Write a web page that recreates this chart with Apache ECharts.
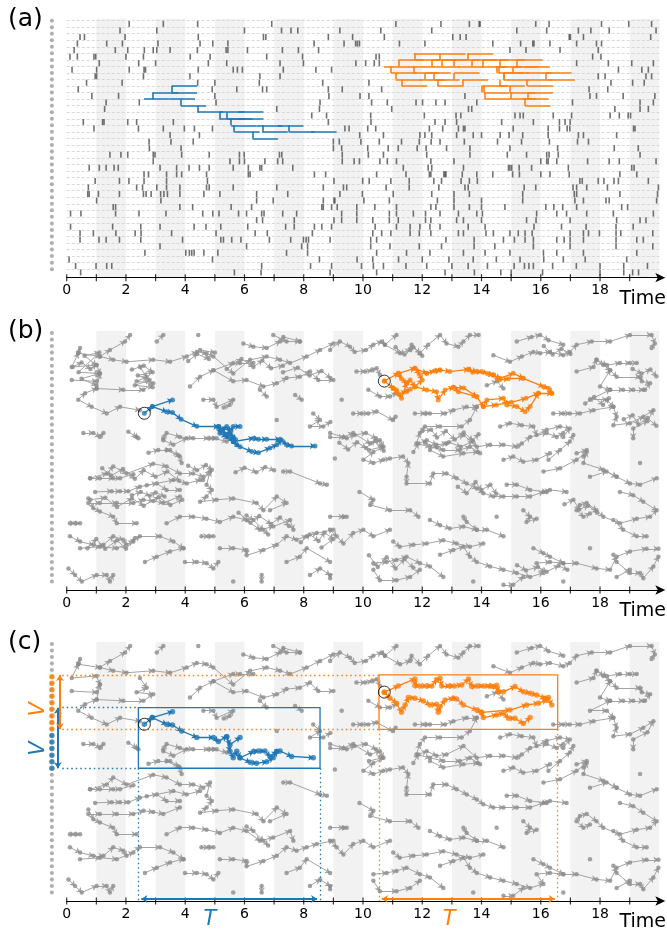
<!DOCTYPE html>
<html><head><meta charset="utf-8">
<script src="https://cdn.jsdelivr.net/npm/echarts@6/dist/echarts.min.js"></script>
<style>html,body{margin:0;padding:0;background:#fff}#c{width:667px;height:936px}</style>
</head><body><div id="c"></div>
<script>
// ---------- data ----------
const NODE_COUNT = 39;
const tickValues = [0,1,2,3,4,5,6,7,8,9,10,11,12,13,14,15,16,17,18,19];
const tickLabels = [0,2,4,6,8,10,12,14,16,18];
const shadedStarts = [1,3,5,7,9,11,13,15,17,19];

// event times per node (row 0 at top)
const events = [
 [2.11,3.26,4.42,6.92,11.11,12.63,13.59,13.92,13.95,15.83,16.28,18.05,18.97,19.74],
 [1.80,3.04,6.0,7.25,7.57,7.80,9.22,10.6,12.32,15.19,16.2,17.27,17.69,18.31,19.89],
 [0.45,0.60,1.97,4.44,6.64,6.72,8.83,9.65,10.72,13.03,13.28,13.48,16.96,17.0,17.44,19.71],
 [0.36,1.35,1.88,3.08,4.5,4.93,5.44,8.35,9.36,9.75,9.81,9.88,11.23,12.09,14.38,15.32,15.73,15.77,16.31,17.21,17.88,18.05],
 [0.25,1.64,2.06,2.62,2.92,3.04,3.49,4.41,5.38,5.44,6.1,7.28,7.82,8.5,14.96,15.5,16.65,17.94],
 [0.11,0.36,0.92,0.98,2.0,2.59,4.17,4.84,6.75,7.96,10.44,10.55,17.75,18.03],
 [1.10,2.43,3.0,4.78,5.40,7.2,7.99,9.76,10.09,10.38,10.55,17.21,18.28,19.07,19.8],
 [0.18,1.01,2.11,2.61,2.66,4.44,5.62,5.76,5.93,7.31,8.41,8.94,18.62,19.41,19.63],
 [0.96,1.01,2.59,4.16,6.52,7.2,17.94,18.17,19.55,19.74],
 [0.67,1.87,4.42,5.0,6.5,8.64,10.2,18.37,19.1,19.49],
 [0.39,4.91,5.74,6.61,6.75,8.83,9.3,10.63,17.63,18.26],
 [0.85,1.75,5.0,8.85,9.9,10.2,13.44,17.66,17.88,18.78,19.85],
 [1.33,2.45,5.04,8.55,10.29,10.82,11.79,12.01,12.46,12.77,13.84,17.07,19.35,19.8],
 [1.28,7.09,8.53,10.97,13.56,13.67,18.5,19.35,19.63],
 [8.27,8.77,10.26,12.07,13.14,13.3,15.13,15.3,15.41,16.42,17.04,18.34,18.65,18.95,19.03],
 [0.56,1.21,1.26,2.06,2.36,3.60,8.83,10.27,12.43,12.77,13.16,14.68,15.75,16.63,16.82,16.99],
 [0.92,2.42,3.26,3.97,4.31,4.92,9.39,9.53,10.16,10.43,12.24,12.69,13.22,13.39,13.44,15.07,16.25,16.63,16.89,16.98,19.13,19.18],
 [3.49,4.48,9.89,10.69,11.92,12.09,12.32,13.16,13.72,14.0,14.63,14.93,15.39,16.25,17.27,17.44,18.56],
 [2.78,3.52,4.27,9.0,9.2,9.93,10.55,11.3,11.9,12.3,12.6,13.42,14.54,15.35,16.29,17.24,17.61],
 [2.79,3.86,9.0,9.28,10.16,10.85,11.19,11.83,12.13,12.82,13.61,14.96,16.57,18.48,19.29],
 [1.46,1.83,2.06,2.92,2.98,3.88,4.81,5.83,5.99,7.18,7.26,9.3,10.18,10.69,12.15,13.61,14.87,15.52,16.2,16.28,16.59,19.35],
 [2.92,5.51,5.83,6.0,6.69,7.12,7.29,9.3,9.7,9.88,10.57,10.82,11.13,12.29,13.07,16.0,16.2,16.25,16.54,17.58,18.31,18.65,19.89],
 [0.76,1.1,1.33,1.6,1.74,3.15,3.71,4.13,4.48,4.81,5.62,6.13,6.52,6.58,7.63,11.36,12.2,12.32,13.39,14.91,14.96,15.02,15.27,15.69,16.93,19.07,19.15],
 [2.61,2.76,3.37,3.71,3.88,4.72,6.13,6.19,8.36,8.74,10.46,11.45,12.24,12.29,12.73,12.77,12.8,13.35,13.84,14.38,15.05,15.28,16.0,16.31,16.96,18.67,19.24],
 [0.96,1.78,2.1,2.61,3.37,4.75,9.02,9.99,10.21,10.94,11.56,12.39,12.65,13.31,13.59,13.86,17.32,17.4,17.94,18.13,18.47,18.62,19.63],
 [0.73,2.36,2.56,3.04,3.37,3.82,4.72,4.81,5.62,7.09,8.66,9.34,9.45,10.78,11.56,12.56,13.44,13.55,15.44,15.83,17.09,17.21,17.55,18.25,19.97],
 [0.71,0.76,1.07,1.78,2.59,2.68,2.85,3.17,3.28,3.4,3.82,4.63,5.17,6.41,7.46,9.22,9.98,11.02,12.32,13.07,13.59,15.39,17.13,17.21,18.67,19.94],
 [1.01,3.18,6.41,6.97,8.66,9.02,9.05,10.03,10.89,12.51,13.07,14.0,15.39,17.15,17.44,18.2,18.31,19.91],
 [1.57,1.65,3.82,4.25,5.55,6.24,8.61,8.66,8.94,9.13,9.79,10.4,11.13,12.29,12.46,13.07,13.59,14.0,14.79,16.17,16.44,16.74,17.21,18.73,18.93],
 [0.13,0.48,1.65,2.44,3.35,4.59,4.93,5.14,5.8,6.07,6.58,6.66,7.29,7.76,9.28,9.79,10.89,11.13,11.7,12.11,12.6,13.22,13.84,14.03,15.86,16.54,16.87,17.55,18.45,19.8],
 [6.41,6.61,7.68,9.02,9.28,9.79,10.33,10.89,11.19,12.11,12.29,13.16,13.39,14.0,15.52,15.84,16.99,18.56,19.35,19.55],
 [0.13,1.55,2.5,3.15,4.3,4.7,5.2,6.11,7.39,7.68,8.36,8.61,8.94,10.41,11.13,11.59,11.92,12.26,12.6,13.55,14.12,15.77,16.7,17.53,18.54,19.12],
 [0.45,0.9,1.66,2.31,2.51,3.54,5.04,6.36,6.77,8.29,10.33,10.63,10.94,11.59,11.9,12.29,13.22,13.39,14.15,14.4,14.96,15.24,15.47,15.71,16.99,17.44,17.61,17.98,18.54,18.7,19.78],
 [0.45,1.09,1.33,1.78,2.5,3.91,5.2,5.29,5.57,5.88,6.84,7.56,7.99,8.08,8.16,8.89,10.26,10.46,12.8,13.75,14.74,15.11,15.47,15.75,16.54,16.79,16.99,17.44,18.54,19.24,19.46],
 [3.15,6.07,7.93,8.13,10.26,10.91,11.9,12.65,13.75,14.45,15.75,16.99,18.54,19.78],
 [2.64,4.02,4.14,4.22,4.3,4.63,5.1,7.42,8.13,10.46,11.47,12.26,13.39,14.12,14.96,16.09,16.54,17.44,19.24],
 [0.08,4.92,8.53,9.8,10.33,11.2,12.0,12.9,13.72,14.5,15.3,16.1,16.76,17.5,18.9],
 [0.3,0.99,1.35,1.52,6.58,8.23,8.94,9.95,10.35,10.69,11.45,12.15,13.0,13.55,14.2,15.1,15.45,15.6,15.75,16.4,17.2,18.0,18.8,19.6],
 [0.47,5.66,6.56,8.89,10.46,12.77,13.76,14.65,15.0,16.06,18.0,18.8,19.1,19.3]
];

// cascades: [time, node, parent node]
const blueCascade = [
 [2.61,12,12],[3.47,12,12],[2.90,11,12],[3.54,11,11],[3.54,10,11],
 [3.85,13,12],[4.41,14,13],[5.15,14,14],[5.78,14,14],
 [5.15,15,14],[5.40,15,14],[5.78,15,15],
 [5.55,16,15],[6.41,16,16],[7.13,16,16],
 [5.65,17,16],[6.6,17,16],[7.5,17,16],[8.25,17,17],
 [6.27,18,17]
];
const orangeCascade = [
 [10.71,7,7],[11.55,7,7],[12.4,7,7],[13.2,7,7],[14.0,7,7],[14.51,7,8],[15.07,7,8],[15.45,7,7],
 [10.94,8,7],[11.70,8,7],[12.10,8,9],[13.07,8,9],[14.57,8,7],[14.74,8,9],[15.5,8,8],[16.18,8,9],
 [11.11,9,8],[11.9,9,9],[12.4,9,8],[13.36,9,10],[14.74,9,8],[15.52,9,10],[16.29,9,9],
 [11.19,6,7],[11.75,6,6],[12.32,6,7],[12.66,6,7],[13.07,6,7],[13.67,6,7],[14.03,6,7],[14.6,6,7],[15.2,6,7],
 [11.73,5,6],[12.60,5,6],[13.53,5,6],
 [11.30,10,9],[12.52,10,9],[14.0,10,11],[14.6,10,9],[15.55,10,10],
 [14.08,11,10],[14.96,11,10],[15.55,11,12],
 [14.12,12,11],[14.98,12,11],[15.4,12,12],
 [15.47,13,12]
];
const cascadeSpan = 0.86;

// event graph chains: [time, vertical position]
const grayPaths = [
 [[0.45,2.3],[0.39,3.1],[0.17,5.2],[1.01,4.9],[1.12,6.2],[1.01,8.5],[0.62,9.2],[0.39,10.2],[0.84,11.3],[1.35,12.3],[1.8,11.3],[2.47,11.8]],
 [[0.17,7.2],[1.01,7.4],[1.12,6.2]],
 [[0.39,3.1],[1.12,3.6],[1.46,2.6],[1.97,1.3],[2.14,0.3]],
 [[1.12,3.6],[1.57,4.1],[2.02,4.4],[2.92,4.1],[3.49,4.4],[4.05,3.6],[4.39,2.9],[4.72,3.1],[4.95,3.6],[5.62,6.2],[6.19,4.1],[6.75,3.6],[7.2,4.1],[7.54,4.6],[8.1,3.6],[8.55,2.6],[9.0,1.6]],
 [[2.47,5.2],[2.7,6.7],[2.36,7.4],[2.92,7.7],[2.59,8.7],[1.91,8.7],[1.01,8.5]],
 [[3.04,1.3],[3.26,0.3]],
 [[4.44,0.3]],
 [[4.16,8.2],[4.5,6.7],[4.95,5.7],[5.62,7.4],[6.07,7.2],[6.64,8.2],[7.09,7.7],[7.42,6.9],[7.87,6.7],[8.21,5.9],[8.49,7.2],[9.0,7.2]],
 [[5.96,1.6],[6.3,2.1],[6.75,2.3],[7.2,1.3],[7.31,0.6],[7.87,1.3]],
 [[6.97,0.3],[7.42,1.3],[7.87,1.3]],
 [[4.95,5.7],[5.62,4.6],[5.85,4.6],[6.3,4.6]],
 [[6.52,8.7],[6.75,9.7]],
 [[7.71,9.5],[7.93,10.2]],
 [[4.61,10.2],[4.95,10.2],[5.06,11.3],[5.62,10.2],[5.5,11.0],[5.3,11.4]],
 [[0.56,15.3],[0.9,15.3],[1.12,15.9],[1.24,15.3]],
 [[2.08,15.1],[2.36,15.9],[2.42,16.1]],
 [[3.26,16.1],[3.37,15.3],[3.82,15.9],[4.27,16.1],[4.95,16.1],[5.4,16.6]],
 [[3.37,17.9],[3.82,18.9]],
 [[7.09,13.3]],
 [[8.32,12.3],[8.55,13.3],[8.21,14.3],[8.66,14.3],[8.9,13.6]],
 [[9.05,19.2]],
 [[2.76,18.3],[3.09,17.9],[3.49,17.9],[3.77,18.7],[3.88,19.9]],
 [[3.26,16.4],[3.6,17.1],[4.05,16.1],[4.78,16.1],[5.06,16.1]],
 [[0.79,22.2],[1.35,21.5],[1.57,20.4],[2.02,21.5],[2.92,20.0],[3.37,20.4],[3.82,21.5],[4.27,21.5],[4.61,22.0],[4.84,21.2],[4.72,23.2],[4.9,24.0],[4.72,25.0],[4.5,25.8],[5.06,25.5],[5.62,25.3],[6.41,26.0],[6.64,27.1],[7.09,25.0],[7.42,26.0],[6.86,27.1]],
 [[0.79,22.2],[1.12,22.2],[1.57,22.2],[1.8,22.2],[2.25,21.6]],
 [[2.7,23.3],[3.6,22.5],[4.05,23.0],[4.5,22.5]],
 [[0.96,24.3],[1.52,24.2],[1.8,24.2],[2.08,24.2],[2.47,23.5],[3.04,23.0],[3.37,24.0],[3.82,24.0]],
 [[0.73,26.0],[1.12,26.0],[1.69,26.0],[2.25,26.0],[2.59,25.5],[2.92,25.7],[3.26,26.0],[3.82,25.0]],
 [[0.73,25.3],[0.9,26.8],[1.12,27.3],[1.57,28.1],[1.69,29.1],[2.36,29.1]],
 [[0.11,29.1],[0.28,29.1],[0.45,29.1]],
 [[3.37,29.1],[3.82,28.1],[4.27,28.1],[4.72,28.4],[5.17,28.9],[5.62,28.1],[6.07,28.6],[6.52,30.1],[6.97,29.6],[7.54,28.6],[7.65,30.1]],
 [[6.07,27.9],[6.3,28.6],[6.64,30.1],[6.8,30.8]],
 [[0.11,31.1],[0.45,31.9],[0.9,32.4],[1.24,32.4],[1.57,31.1],[1.91,31.6],[2.02,32.4],[2.47,31.1],[3.15,31.1],[3.6,31.9],[3.94,32.9]],
 [[0.45,32.9],[1.12,32.7],[1.69,32.9],[2.25,31.9]],
 [[2.64,35.0],[3.04,34.2],[3.49,33.4],[3.94,32.9]],
 [[3.99,35.0],[4.39,35.0],[4.72,35.2],[4.95,36.0],[5.12,35.0]],
 [[4.55,31.1],[4.78,31.1],[4.95,31.1]],
 [[5.17,32.9],[5.62,32.9],[6.07,33.2],[6.07,34.0],[6.64,33.2],[7.09,32.4],[7.42,31.1],[7.76,31.6],[8.1,31.1],[8.44,30.6],[9.0,30.1]],
 [[7.42,35.0],[7.87,34.2],[8.1,32.9],[8.89,35.0]],
 [[8.21,37.0],[8.55,36.0],[8.89,37.0],[8.89,37.5]],
 [[0.06,36.0],[0.28,37.0],[0.51,38.0],[1.01,37.0],[1.35,37.0],[1.46,38.0],[1.57,37.0]],
 [[5.62,38.0]],
 [[6.58,37.0],[6.58,38.0]],
 [[7.31,21.2],[7.54,21.2],[8.55,23.0],[8.78,23.2]],
 [[8.89,2.6],[9.22,1.3],[9.56,2.1],[9.72,2.9],[10.1,2.6],[10.35,1.8],[10.63,1.3],[10.74,1.8],[11.13,0.3]],
 [[10.74,1.8],[11.25,3.1],[11.59,2.6],[11.64,1.8],[11.92,3.1],[12.2,1.8],[12.6,0.3],[12.82,1.6],[13.22,2.1],[13.39,1.3],[13.61,0.3],[13.9,0.3]],
 [[14.4,3.4],[14.96,4.4],[15.36,3.6],[15.75,2.9],[15.98,3.1],[16.31,2.9],[16.76,3.4],[16.98,2.9],[17.21,1.8],[17.72,1.3],[18.34,1.3],[19.01,0.3],[19.74,0.3],[19.85,1.6],[19.74,2.3]],
 [[15.19,1.3],[15.69,0.6],[15.98,0.3],[16.26,1.1],[16.76,1.8]],
 [[17.21,5.9],[17.78,5.2],[17.88,4.1],[18.23,4.9],[18.67,4.6],[19.01,4.6],[19.24,4.6]],
 [[17.88,4.1],[18.11,4.9],[18.34,5.7],[18.56,6.7],[19.35,6.7],[19.41,7.4],[19.69,7.7],[19.52,8.7]],
 [[18.34,5.7],[18.0,8.2],[18.34,8.7],[18.78,8.7],[19.12,8.7],[19.46,8.7]],
 [[18.34,8.7],[17.66,10.2],[18.23,10.2],[18.45,11.3],[17.78,11.8],[17.32,12.3],[16.42,12.3],[16.76,12.3],[16.98,12.3]],
 [[18.45,11.3],[18.56,12.8],[18.45,14.1],[19.01,13.8],[19.46,12.8],[19.8,11.8],[19.6,13.5],[19.12,14.6],[19.12,16.1]],
 [[9.78,5.9],[10.07,5.9],[10.29,5.7],[10.46,5.4],[10.57,6.4]],
 [[10.18,8.7],[10.57,9.7],[10.91,9.7],[11.13,9.2]],
 [[9.28,10.2]],
 [[9.67,12.3],[9.96,12.3],[10.18,12.3],[10.46,12.0],[11.0,13.3],[11.1,12.8]],
 [[11.75,12.3],[12.09,12.3],[12.26,12.3],[12.77,12.3],[13.05,11.8],[13.5,11.3],[13.84,11.3]],
 [[13.84,11.3],[13.61,13.3],[13.33,14.3],[12.6,14.3],[12.09,14.3],[11.92,15.3],[11.8,16.9],[12.26,17.4],[12.71,17.9],[13.27,17.9],[13.61,17.4],[13.95,18.4]],
 [[8.89,15.3],[9.45,16.1],[9.72,15.6],[10.1,15.3],[10.44,16.1],[10.66,17.4],[10.2,17.9]],
 [[14.63,14.3],[14.96,13.8],[15.36,14.1],[15.75,14.3],[15.86,15.6],[16.2,14.8],[16.65,14.3],[16.98,14.6],[16.76,15.9]],
 [[16.26,19.4],[16.65,17.9],[16.98,16.6],[17.1,15.6]],
 [[17.21,18.4],[17.55,17.9],[17.44,18.9]],
 [[14.18,8.0],[14.52,7.4],[14.74,8.5]],
 [[8.89,15.9],[9.34,15.9],[9.67,15.3],[10.24,16.9],[10.57,16.4],[10.69,17.4],[10.35,18.2],[10.01,19.4],[10.35,19.9],[10.69,19.4],[10.91,19.2],[11.35,18.9],[11.53,19.9],[11.47,22.0],[11.47,23.0],[12.26,23.0],[12.37,21.5],[12.82,21.5],[13.16,22.2],[13.5,23.0],[13.84,23.8],[14.06,24.5],[14.4,25.0],[14.74,25.0],[15.19,25.0],[15.64,25.0],[16.09,24.3],[16.31,24.0],[16.87,24.3]],
 [[11.7,18.2],[11.87,16.9],[12.15,16.4],[12.48,17.1],[12.82,16.9],[13.39,15.6],[13.84,17.4],[14.29,17.1],[14.74,17.1],[15.19,17.4],[15.36,16.9],[15.64,15.9],[16.2,15.3],[16.54,15.9],[16.76,15.3]],
 [[12.26,17.9],[12.71,18.9],[13.39,18.4],[13.87,18.2]],
 [[14.74,19.4],[15.07,18.9],[15.41,19.7],[15.86,19.4],[16.31,18.4]],
 [[16.09,21.2],[16.65,20.7],[17.21,19.4],[17.55,18.2],[17.44,19.9],[18.11,20.9],[18.56,22.0],[19.01,23.0],[19.35,23.2],[19.91,22.2]],
 [[17.66,22.0],[18.22,21.2],[18.56,22.0]],
 [[18.67,24.3],[19.12,24.8],[19.46,25.8],[19.91,27.1],[19.69,28.1],[19.24,28.4],[18.67,29.1],[18.11,28.1],[17.88,27.1],[17.55,26.0],[17.32,26.3],[17.21,27.1],[17.44,28.1],[17.66,27.6]],
 [[18.45,28.6],[18.78,30.1],[19.24,31.1],[19.57,31.1]],
 [[14.85,23.2],[15.19,23.2],[15.64,24.0],[16.2,24.3]],
 [[15.41,27.1],[15.64,28.1],[15.52,28.9],[15.86,28.4]],
 [[14.51,28.1]],
 [[9.88,24.3],[10.35,25.5],[10.24,26.3],[10.91,27.1],[11.59,27.1],[11.87,28.1]],
 [[8.89,28.1],[9.34,28.1],[9.45,28.1]],
 [[12.26,28.6],[12.6,29.4],[12.93,29.9],[13.39,29.6],[13.84,30.1],[14.18,30.1],[14.74,31.1]],
 [[13.39,28.1],[13.5,28.9],[13.84,30.1]],
 [[8.89,30.1],[9.11,31.1],[9.34,32.2],[9.67,30.6],[10.01,30.1],[10.35,31.1],[10.91,30.1]],
 [[11.02,31.9],[11.24,32.7],[11.7,32.4],[12.15,32.2],[12.71,31.7],[13.16,32.2],[13.61,32.7],[14.06,32.2]],
 [[12.6,33.9],[13.05,33.2],[13.39,32.7],[13.61,34.2],[13.84,35.0],[14.29,35.7],[14.74,36.2],[15.19,36.7],[15.64,37.3],[16.09,36.7],[15.86,35.2],[16.31,35.0],[16.76,35.2],[17.21,35.2],[17.88,36.0],[18.34,36.2],[18.56,34.2],[19.01,33.4],[19.57,33.0],[19.97,33.0]],
 [[15.75,32.9],[16.09,33.7],[16.31,34.2],[16.76,35.2]],
 [[10.35,35.2],[10.8,35.0],[11.13,34.7],[11.47,34.2],[11.92,35.2],[12.26,35.7],[12.71,37.3]],
 [[10.35,36.2],[10.57,37.8],[11.13,37.8],[11.59,37.3],[11.92,36.2]],
 [[14.74,38.5],[15.07,38.5],[15.41,37.3]],
 [[13.72,38.0]],[[16.76,38.0]],[[17.66,32.9]],[[19.35,19.9]],
 [[18.45,33.9],[18.56,35.0],[19.01,36.7],[19.35,36.7],[19.46,37.5],[19.8,35.7],[19.97,34.2]],
 [[18.56,37.3],[19.01,36.2]]
];
// additional densely linked events shown in the full event graph
const grayExtraB = [
 [[0.2,5.2],[0.5,4.5],[0.8,5.5],[1.0,4.9],[0.6,3.5],[1.1,3.0],[0.4,6.0],[1.1,6.2],[0.5,7.0],[1.0,8.0]],
 [[2.2,5.6],[2.6,5.0],[2.9,6.0],[2.4,6.5],[2.8,7.2],[2.3,8.0],[2.9,8.3]],
 [[4.1,4.3],[4.4,3.2],[4.8,4.0],[4.5,2.6],[5.0,3.0]],
 [[5.4,5.5],[5.9,4.0],[6.3,5.2],[6.6,4.2],[6.9,5.4],[7.3,5.0]],
 [[7.3,6.0],[7.8,5.3],[8.2,6.5],[8.6,5.8],[8.9,6.9]],
 [[1.2,20.7],[1.5,21.8],[1.9,20.8],[2.3,22.3],[2.6,21.0],[3.0,22.0],[3.4,21.2],[3.8,22.6]],
 [[0.8,25.5],[1.3,25.2],[1.7,26.6],[2.2,25.3],[2.6,26.4],[3.1,25.1],[3.5,26.3],[3.9,25.5]],
 [[2.2,24.8],[2.5,24.3],[2.8,24.9],[3.0,24.4],[3.3,25.0]],
 [[5.8,27.5],[6.2,29.0],[6.5,28.0],[6.9,29.2],[7.2,28.2],[7.5,29.5]],
 [[4.1,20.3],[4.4,21.0],[4.7,20.2],[4.9,20.9],[4.6,22.5]],
 [[5.7,21.3],[6.0,20.6],[6.4,21.3],[6.7,20.5],[7.0,21.0]],
 [[7.9,32.0],[8.2,30.8],[8.5,31.8],[8.7,30.5],[9.0,31.5],[8.6,32.8]],
 [[0.7,32.9],[1.0,31.5],[1.3,33.0],[1.7,31.7],[2.0,33.0],[2.3,31.4]],
 [[12.0,15.0],[12.3,14.8],[12.5,16.0],[12.8,15.0],[13.1,16.3],[13.4,15.2],[13.7,16.4],[13.9,15.5]],
 [[12.1,16.8],[12.5,17.5],[12.9,16.7],[13.3,17.4],[13.7,16.6]],
 [[9.2,16.8],[9.5,17.8],[9.8,16.7],[10.1,17.6],[10.4,16.5],[10.7,18.0]],
 [[10.2,34.0],[10.5,35.8],[10.8,34.3],[11.1,36.0],[11.4,34.6],[11.7,35.9]],
 [[13.2,23.5],[13.5,24.5],[13.8,22.8],[14.0,24.0],[14.3,23.2],[14.5,24.6]],
 [[15.2,35.5],[15.5,36.3],[15.9,35.8],[16.2,36.5],[16.6,35.6],[16.9,36.2]],
 [[16.8,26.2],[17.1,25.5],[17.3,27.0],[17.6,26.4],[17.9,27.5]],
 [[17.5,10.8],[17.8,9.8],[18.1,11.0],[18.3,10.0]],
 [[18.8,13.2],[19.1,12.6],[19.3,14.0],[19.6,13.0],[19.9,14.2]],
 [[16.1,2.0],[16.4,3.3],[16.7,2.4],[17.0,3.2]],
 [[11.1,2.2],[11.4,3.3],[11.7,2.2],[12.0,3.5]],
 [[19.1,5.5],[19.4,6.2],[19.7,5.6],[19.9,6.6]]
];

const bluePathsB = [
 [[2.62,12.28],[2.89,11.26],[3.57,10.24]],
 [[2.89,11.26],[3.37,12.03],[3.57,12.18],[3.86,13.2],[4.39,14.27],[5.12,14.32],[5.23,14.83],[5.4,14.32],[5.51,15.09],[5.62,14.32],[5.85,14.32]],
 [[5.12,14.32],[5.17,15.34],[5.4,15.85],[5.51,16.1],[5.62,16.6],[5.74,17.1],[5.85,17.38],[6.24,18.14],[6.47,18.3],[6.86,17.6],[7.09,17.1],[7.25,16.4]],
 [[5.62,16.6],[6.3,16.1],[6.47,16.26],[6.75,16.26],[7.2,16.26],[7.42,17.1],[7.59,17.28],[8.38,17.28]],
 [[5.23,14.83],[5.35,15.5],[5.5,15.3],[5.62,15.9],[5.7,16.3]]
];
const orangePathsB = [
 [[10.72,7.34],[11.19,6.17],[11.75,5.4],[12.15,6.17],[12.6,5.66],[12.93,5.91],[13.56,5.56],[13.84,5.91],[14.4,6.42],[14.63,6.93],[15.07,6.17],[15.41,6.93],[16.09,8.21],[16.26,8.46],[16.37,9.23]],
 [[10.72,7.34],[11.02,8.46],[11.13,8.72],[11.3,9.99],[11.47,7.7],[11.59,7.19],[11.75,8.21],[12.15,8.72],[12.48,8.97],[12.54,10.24],[12.77,8.72],[13.05,8.31],[13.22,8.97],[13.84,9.74],[14.06,11.26],[14.18,10.24],[14.74,9.99],[14.85,11.0],[15.19,11.26],[15.47,12.03],[15.64,11.26],[15.92,9.23],[16.37,9.23]],
 [[11.19,6.17],[11.3,7.0],[11.47,7.7]],
 [[11.75,5.4],[11.9,6.3],[12.0,7.2],[11.75,8.21]],
 [[13.05,8.31],[13.4,8.4],[13.84,9.74]],
 [[14.4,6.42],[14.6,7.2],[14.9,7.0],[15.41,6.93]],
 [[14.06,11.26],[14.5,11.0],[15.0,10.6],[15.5,10.0],[15.92,9.23]],
 [[11.02,8.46],[11.2,9.3],[11.45,9.0],[11.6,8.6]],
 [[12.15,6.17],[12.4,5.8],[12.6,5.66]],
 [[13.56,5.56],[13.7,6.0],[14.0,5.9],[14.2,6.2],[14.4,6.42]]
];
const bluePathsC = [
 [[2.62,12.28],[2.89,11.26],[3.57,10.35]],
 [[2.89,11.26],[3.37,12.28],[3.57,12.38],[3.88,13.3],[4.39,14.3],[4.95,14.3],[5.12,14.9],[5.4,14.17],[5.51,15.4],[5.85,14.3]],
 [[5.4,14.17],[5.51,16.4],[5.62,17.4],[5.74,16.4],[5.85,17.4],[6.19,18.1],[6.41,18.25],[6.75,18.0],[6.97,17.4],[7.09,16.46]],
 [[5.85,17.4],[6.3,16.46],[6.47,16.36],[6.69,16.36],[6.86,17.2],[7.09,16.46],[7.2,16.36],[7.59,17.2],[8.32,17.4]]
];
const orangePathsC = [
 [[10.72,7.39],[11.19,6.42],[11.75,5.35],[11.75,6.37],[11.92,6.42],[12.15,6.42],[12.32,6.42],[12.48,5.5],[12.6,5.25],[12.66,6.42],[12.93,6.42],[13.08,6.42],[13.33,6.27],[13.56,5.35],[13.67,6.52],[13.84,6.42],[14.06,6.42],[14.29,6.42],[14.4,6.52],[14.51,6.3],[14.57,7.29],[14.74,7.29],[15.13,6.52],[15.41,7.29],[15.64,7.54],[15.86,7.8],[16.14,8.3],[16.26,8.2],[16.37,9.33]],
 [[10.72,7.39],[10.91,8.3],[11.13,9.07],[11.3,10.45],[11.42,9.33],[11.53,8.2],[11.75,8.3],[12.04,8.72],[12.26,9.33],[12.48,9.23],[12.54,10.45],[12.6,9.58],[12.77,8.56],[13.05,8.3],[13.16,8.41],[13.39,9.33],[13.84,10.1],[14.0,10.45],[14.06,11.26],[14.51,10.86],[14.74,10.6],[14.91,11.37],[15.13,11.37],[15.41,12.18],[15.64,11.26]],
 [[14.0,10.45],[14.96,10.1],[15.52,9.33],[15.92,9.07],[16.2,8.6]]
];
const blueRoot = [2.62, 12.28];
const orangeRoot = [10.72, 7.36];
// windows: [t start, t end, top node pos, bottom node pos]
const blueWindow = [2.42, 8.55, 9.74, 19.0];
const orangeWindow = [10.54, 16.57, 4.74, 13.05];

// ---------- styling ----------
const BLUE = '#1f77b4', ORANGE = '#ff7f0e';
const GRAY_PT = '#8c8c8c', GRAY_LN = '#a3a3a3';
const FONT = "'DejaVu Sans', sans-serif";
const PANEL_TOPS = [18.7, 331, 642];
const Y_MIN = -0.3, Y_MAX = 39.3, DOT_X = -0.5;

const nodes = Array.from({length: NODE_COUNT}, (_, i) => i);

const chart = echarts.init(document.getElementById('c'), null, {renderer: 'canvas'});

const grids = PANEL_TOPS.map(top => ({left: 66.7, top: top, width: 592.6, height: 259}));
const xAxes = PANEL_TOPS.map((_, i) => ({
  type: 'value', gridIndex: i, min: 0, max: 20, interval: 1, position: 'bottom',
  axisLine: {show: true, onZero: false, lineStyle: {color: '#000', width: 1.2}, symbol: ['none', 'arrow'], symbolSize: [7, 10], symbolOffset: [0, 6]},
  axisTick: {show: false},
  splitLine: {show: false},
  axisLabel: {fontSize: 14, color: '#000', fontFamily: FONT, margin: 6,
    formatter: v => tickLabels.includes(v) ? String(v) : ''}
}));
const yAxes = PANEL_TOPS.map((_, i) => ({
  type: 'value', gridIndex: i, min: Y_MIN, max: Y_MAX, inverse: true, show: false
}));

function segmentsFromPaths(paths) {
  const segs = [];
  paths.forEach(p => {
    for (let i = 0; i + 1 < p.length; i++) {
      const a = p[i], b = p[i + 1];
      segs.push({coords: a[0] <= b[0] ? [a, b] : [b, a]});
    }
  });
  return segs;
}
function pointsFromPaths(paths) {
  const pts = [];
  paths.forEach(p => p.forEach(q => pts.push(q)));
  return pts;
}
function cascadeSegments(list) {
  const segs = [];
  list.forEach(([t, r, p]) => {
    segs.push({coords: [[t, r], [t + cascadeSpan, r]]});
    if (p !== r) segs.push({coords: [[t, r], [t, p]]});
  });
  return segs;
}

const series = [];

PANEL_TOPS.forEach((_, g) => {
  // node column with shaded time bands
  series.push({
    type: 'scatter', xAxisIndex: g, yAxisIndex: g, clip: false, silent: true, z: 3,
    symbolSize: 4, itemStyle: {color: '#9a9a9a'},
    data: nodes.map(k => [DOT_X, k]),
    markArea: {silent: true, z: 0, itemStyle: {color: '#f2f2f2'},
      data: shadedStarts.map(s => [{xAxis: s}, {xAxis: s + 1}])}
  });
  // crossing axis ticks
  series.push({
    type: 'scatter', xAxisIndex: g, yAxisIndex: g, clip: false, silent: true, z: 5,
    symbol: 'rect', symbolSize: [1.2, 7], itemStyle: {color: '#000'},
    data: tickValues.map(v => [v, Y_MAX])
  });
});

// (a) raster of events
const eventPts = [];
events.forEach((row, k) => row.forEach(t => eventPts.push([t, k + 0.5])));
series.push({
  type: 'scatter', xAxisIndex: 0, yAxisIndex: 0, silent: true, z: 2,
  symbol: 'rect', symbolSize: [1.6, 6], itemStyle: {color: '#4d4d4d'},
  data: eventPts,
  markLine: {silent: true, symbol: ['none', 'none'], z: 1, label: {show: false},
    lineStyle: {color: '#cfcfcf', type: [3, 2], width: 0.8},
    data: nodes.map(k => ({yAxis: k}))}
});
[[blueCascade, BLUE], [orangeCascade, ORANGE]].forEach(([list, col]) => {
  series.push({
    type: 'lines', coordinateSystem: 'cartesian2d', xAxisIndex: 0, yAxisIndex: 0, silent: true, z: 4,
    symbol: ['none', 'none'], lineStyle: {color: col, width: 1.6, opacity: 1},
    data: cascadeSegments(list)
  });
});

// (b) and (c) event graphs
function graphSeries(g, paths, lineCol, ptCol, ptSize, lw, z) {
  series.push({
    type: 'lines', coordinateSystem: 'cartesian2d', xAxisIndex: g, yAxisIndex: g, silent: true, z: z,
    symbol: ['none', 'arrow'], symbolSize: 5,
    lineStyle: {color: lineCol, width: lw, opacity: 1},
    data: segmentsFromPaths(paths)
  });
  series.push({
    type: 'scatter', xAxisIndex: g, yAxisIndex: g, silent: true, z: z + 0.5,
    symbolSize: ptSize, itemStyle: {color: ptCol},
    data: pointsFromPaths(paths)
  });
}
graphSeries(1, grayPaths, GRAY_LN, GRAY_PT, 4.5, 1, 3);
graphSeries(1, grayExtraB, GRAY_LN, GRAY_PT, 4.5, 1, 3);
graphSeries(1, bluePathsB, BLUE, BLUE, 5, 1.3, 6);
graphSeries(1, orangePathsB, ORANGE, ORANGE, 5, 1.3, 6);
graphSeries(2, grayPaths, GRAY_LN, GRAY_PT, 4.5, 1, 3);
graphSeries(2, bluePathsC, BLUE, BLUE, 5.5, 1.3, 6);
graphSeries(2, orangePathsC, ORANGE, ORANGE, 5.5, 1.3, 6);

// root markers
[1, 2].forEach(g => {
  series.push({
    type: 'scatter', xAxisIndex: g, yAxisIndex: g, silent: true, z: 8,
    symbolSize: 12, itemStyle: {color: 'rgba(0,0,0,0)', borderColor: '#000', borderWidth: 1},
    data: [blueRoot, orangeRoot]
  });
});

// (c) windows, guides and coloured nodes
function inWin(k, w) { return k >= w[2] && k <= w[3]; }
series.push({
  type: 'scatter', xAxisIndex: 2, yAxisIndex: 2, clip: false, silent: true, z: 7,
  symbolSize: 5.5,
  data: nodes.filter(k => inWin(k, orangeWindow) || inWin(k, blueWindow)).map(k => ({
    value: [DOT_X, k], itemStyle: {color: inWin(k, orangeWindow) ? ORANGE : BLUE}
  }))
});
[[blueWindow, BLUE, -0.30], [orangeWindow, ORANGE, -0.23]].forEach(([w, col, vx]) => {
  const [t0, t1, k0, k1] = w;
  series.push({
    type: 'scatter', xAxisIndex: 2, yAxisIndex: 2, silent: true, data: [],
    markArea: {silent: true, z: 7, itemStyle: {color: 'rgba(255,255,255,0)', borderColor: col, borderWidth: 1.3},
      data: [[{coord: [t0, k0]}, {coord: [t1, k1]}]]}
  });
  series.push({
    type: 'lines', coordinateSystem: 'cartesian2d', xAxisIndex: 2, yAxisIndex: 2, clip: false, silent: true, z: 6,
    symbol: ['none', 'none'], lineStyle: {color: col, width: 1.3, type: [1.5, 3], opacity: 1},
    data: [
      {coords: [[-0.15, k0], [t0, k0]]}, {coords: [[-0.15, k1], [t0, k1]]},
      {coords: [[t0, k1], [t0, Y_MAX]]}, {coords: [[t1, k1], [t1, Y_MAX]]}
    ]
  });
  series.push({
    type: 'lines', coordinateSystem: 'cartesian2d', xAxisIndex: 2, yAxisIndex: 2, clip: false, silent: true, z: 9,
    symbol: ['arrow', 'arrow'], symbolSize: 6, lineStyle: {color: col, width: 2, opacity: 1},
    data: [{coords: [[vx, k0], [vx, k1]]}, {coords: [[t0 + 0.1, 39.0], [t1 - 0.1, 39.0]]}]
  });
});

chart.setOption({animation: false, grid: grids, xAxis: xAxes, yAxis: yAxes, series: series});

// text annotations placed through the axes
const gfx = [];
['(a)', '(b)', '(c)'].forEach((s, g) => {
  const p = chart.convertToPixel({gridIndex: g}, [0, Y_MIN]);
  gfx.push({type: 'text', x: 8, y: p[1] - 12, silent: true,
    style: {text: s, font: '25px ' + FONT, fill: '#000', align: 'left', verticalAlign: 'top', textAlign: 'left', textVerticalAlign: 'top'}});
  const a = chart.convertToPixel({gridIndex: g}, [20, Y_MAX]);
  gfx.push({type: 'text', x: 666, y: a[1] + 21, silent: true,
    style: {text: 'Time', font: '19px ' + FONT, fill: '#000', align: 'right', verticalAlign: 'middle', textAlign: 'right', textVerticalAlign: 'middle'}});
});
[[blueWindow, BLUE, 16.0], [orangeWindow, ORANGE, 10.0]].forEach(([w, col, vk]) => {
  const tp = chart.convertToPixel({gridIndex: 2}, [(w[0] + w[1]) / 2 - 0.65, Y_MAX]);
  gfx.push({type: 'text', x: tp[0], y: tp[1] + 19, silent: true,
    style: {text: 'T', font: 'italic 21px ' + FONT, fill: col, align: 'center', verticalAlign: 'middle', textAlign: 'center', textVerticalAlign: 'middle'}});
  const vp = chart.convertToPixel({gridIndex: 2}, [-0.95, vk]);
  gfx.push({type: 'text', x: vp[0], y: vp[1], rotation: Math.PI / 2, silent: true,
    style: {text: 'V', font: 'italic 21px ' + FONT, fill: col, align: 'center', verticalAlign: 'middle', textAlign: 'center', textVerticalAlign: 'middle'}});
});
chart.setOption({graphic: gfx});
</script>
</body></html>
